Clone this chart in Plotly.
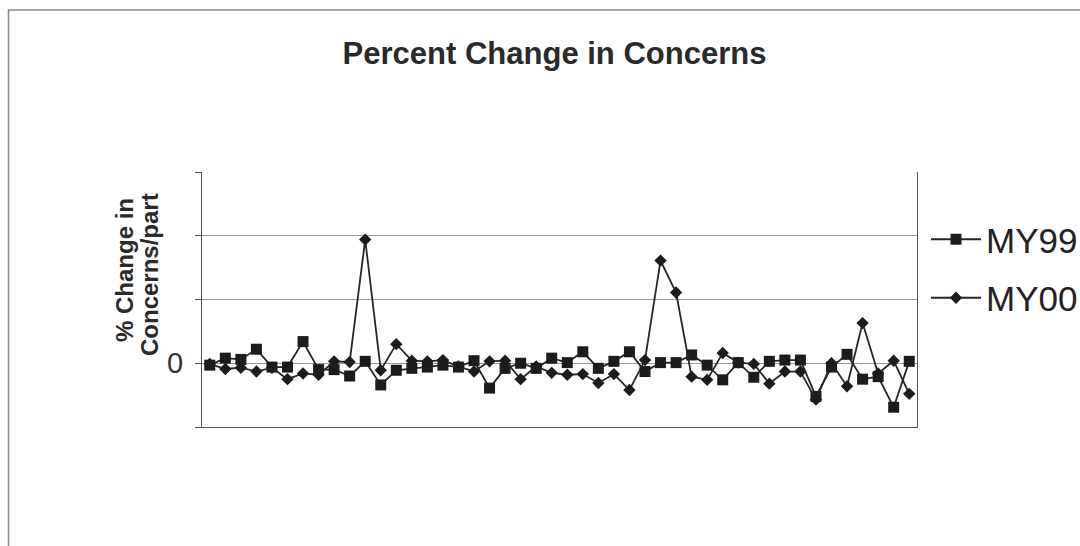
import plotly.graph_objects as go

# Part numbers along the category axis (labels are not shown)
parts = [str(i) for i in range(1, 47)]

# Percent change in concerns per part, model year 1999
my99 = [-0.03, 0.08, 0.06, 0.22, -0.06, -0.06, 0.34, -0.10, -0.10, -0.20,
        0.03, -0.34, -0.11, -0.08, -0.06, -0.03, -0.06, 0.04, -0.39, -0.08,
        0.00, -0.08, 0.08, 0.01, 0.18, -0.08, 0.03, 0.18, -0.13, 0.01,
        0.01, 0.13, -0.03, -0.26, 0.01, -0.22, 0.03, 0.05, 0.05, -0.52,
        -0.06, 0.14, -0.25, -0.21, -0.69, 0.03]

# Percent change in concerns per part, model year 2000
my00 = [-0.01, -0.09, -0.07, -0.13, -0.07, -0.25, -0.16, -0.18, 0.03, 0.02,
        1.94, -0.11, 0.30, 0.04, 0.03, 0.05, -0.05, -0.13, 0.03, 0.04,
        -0.25, -0.05, -0.15, -0.18, -0.17, -0.31, -0.17, -0.42, 0.05, 1.61,
        1.11, -0.21, -0.26, 0.16, 0.01, -0.01, -0.32, -0.13, -0.13, -0.57,
        0.00, -0.36, 0.63, -0.16, 0.04, -0.48]

# Value-axis ticks; only the zero tick carries a label
y_ticks = [-1, 0, 1, 2, 3]
y_tick_text = ["", "0", "", "", ""]

FONT = "Liberation Sans, Arial, sans-serif"
W, H = 1080, 546
L, R, T, B = 202, 163, 172, 119  # plot area: x 202..917, y 172..427

fig = go.Figure()
fig.add_trace(go.Scatter(
    x=parts, y=my99, name="MY99", mode="lines+markers",
    line=dict(color="#262626", width=1.8),
    marker=dict(symbol="square", size=11, color="#1c1c1c"),
    legendgroup="a",
))
fig.add_trace(go.Scatter(
    x=parts, y=my00, name="MY00", mode="lines+markers",
    line=dict(color="#262626", width=1.8),
    marker=dict(symbol="diamond", size=9.5, color="#1c1c1c"),
    legendgroup="b",
))

pw = W - L - R
ph = H - T - B


def px_x(p):
    return (p - L) / pw


def px_y(p):
    return (H - B - p) / ph


fig.update_layout(
    width=W, height=H,
    margin=dict(l=L, r=R, t=T, b=B, autoexpand=False),
    paper_bgcolor="white", plot_bgcolor="white",
    font=dict(family=FONT, color="#222"),
    title=dict(
        text="<b>Percent Change in Concerns</b>",
        font=dict(size=31, family=FONT, color="#2a2a2a"),
        xref="container", yref="container",
        x=554.5 / W, xanchor="center",
        y=1 - 53 / H, yanchor="middle",
    ),
    showlegend=True,
    legend=dict(
        x=px_x(926), xanchor="left",
        y=px_y(210), yanchor="top",
        font=dict(size=35, family=FONT, color="#222"),
        bgcolor="rgba(0,0,0,0)",
        tracegroupgap=10,
        itemwidth=50,
    ),
    xaxis=dict(
        type="category",
        range=[-0.5, len(parts) - 0.5],
        showticklabels=False, ticks="",
        showgrid=False, zeroline=False,
        showline=True, linecolor="#555", linewidth=1.2,
    ),
    yaxis=dict(
        range=[-1, 3],
        tickvals=y_ticks, ticktext=y_tick_text,
        ticks="outside", ticklen=6, tickcolor="#555",
        tickfont=dict(size=29, family=FONT, color="#333"),
        ticklabelstandoff=6,
        showgrid=True, gridcolor="#9a9a9a", gridwidth=1,
        zeroline=True, zerolinecolor="#9a9a9a", zerolinewidth=1,
        showline=True, linecolor="#555", linewidth=1.2, mirror=True,
    ),
)

# Two-line rotated value-axis title
fig.add_annotation(
    text="<b>% Change in</b>", textangle=-90,
    xref="paper", yref="paper", x=px_x(124), y=px_y(270),
    xanchor="center", yanchor="middle",
    showarrow=False, font=dict(size=24, family=FONT, color="#2a2a2a"),
)
fig.add_annotation(
    text="<b>Concerns/part</b>", textangle=-90,
    xref="paper", yref="paper", x=px_x(149), y=px_y(275),
    xanchor="center", yanchor="middle",
    showarrow=False, font=dict(size=24, family=FONT, color="#2a2a2a"),
)

# Chart area frame
fig.add_shape(
    type="rect", xref="paper", yref="paper",
    x0=px_x(8.5), x1=px_x(1090), y0=px_y(560), y1=px_y(10),
    line=dict(color="#8a8a8a", width=1.5), fillcolor="rgba(0,0,0,0)",
    layer="below",
)

fig.write_html("out.html")
